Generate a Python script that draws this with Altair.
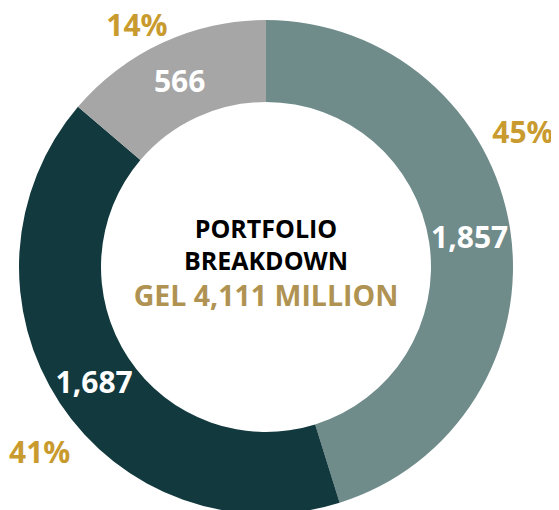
import altair as alt
import pandas as pd

# Data
segments = ["Segment A", "Segment B", "Segment C"]
values = [1857, 1687, 566]
value_labels = ["1,857", "1,687", "566"]
pct_labels = ["45%", "41%", "14%"]
order_idx = [0, 1, 2]
title_line1 = "PORTFOLIO"
title_line2 = "BREAKDOWN"
title_line3 = "GEL 4,111 MILLION"

colors = ["#6F8B8A", "#12393D", "#A6A6A6"]
GOLD = "#C99B2F"
GOLD_CENTER = "#B09352"
FONT = "Open Sans"

df = pd.DataFrame({
    "segment": segments,
    "value": values,
    "vlabel": value_labels,
    "plabel": pct_labels,
    "idx": order_idx,
})

CX, CY = 258, 259
R_OUT, R_IN = 247, 165

base = alt.Chart(df).encode(
    theta=alt.Theta("value:Q", stack=True),
    order=alt.Order("idx:Q"),
    x=alt.value(CX),
    y=alt.value(CY),
)

arcs = base.mark_arc(outerRadius=R_OUT, innerRadius=R_IN).encode(
    color=alt.Color("segment:N", scale=alt.Scale(domain=segments, range=colors), legend=None),
)

vals = base.mark_text(font=FONT, fontWeight="bold", fontSize=30, color="white",
                      align="center", baseline="middle", dy=3).encode(
    text="vlabel:N",
    radius=alt.value((R_OUT + R_IN) / 2),
)

stacked = alt.Chart(df).transform_window(
    cum="sum(value)", sort=[alt.SortField("idx")]
).transform_calculate(mid="datum.cum - datum.value / 2")

pct_layers = []
for seg, off, rad in zip(segments, [-0.337, -0.096, -0.054], [291, 291, 276]):
    pct_layers.append(
        stacked.transform_filter(alt.datum.segment == seg).mark_text(
            font=FONT, fontWeight="bold", fontSize=30, color=GOLD,
            align="center", baseline="middle", thetaOffset=off, dy=4,
        ).encode(
            theta=alt.Theta("mid:Q", stack=None),
            text="plabel:N",
            radius=alt.value(rad),
            x=alt.value(CX),
            y=alt.value(CY),
        )
    )

tdf = pd.DataFrame({"t1": [title_line1], "t2": [title_line2], "t3": [title_line3]})
tbase = alt.Chart(tdf)
t1 = tbase.mark_text(font=FONT, fontWeight="bold", fontSize=25, color="black",
                     align="center", baseline="middle").encode(
    text="t1:N", x=alt.value(CX), y=alt.value(CY - 37))
t2 = tbase.mark_text(font=FONT, fontWeight="bold", fontSize=25, color="black",
                     align="center", baseline="middle").encode(
    text="t2:N", x=alt.value(CX), y=alt.value(CY - 5))
t3 = tbase.mark_text(font=FONT, fontWeight="bold", fontSize=28.5, color=GOLD_CENTER,
                     align="center", baseline="middle").encode(
    text="t3:N", x=alt.value(CX), y=alt.value(CY + 30))

chart = alt.layer(arcs, vals, *pct_layers, t1, t2, t3).properties(
    width=543, height=502,
    autosize=alt.AutoSizeParams(type="none"),
    padding=0,
).configure_view(stroke=None)

chart.save("out.html", embed_options={"renderer": "svg", "actions": False})
